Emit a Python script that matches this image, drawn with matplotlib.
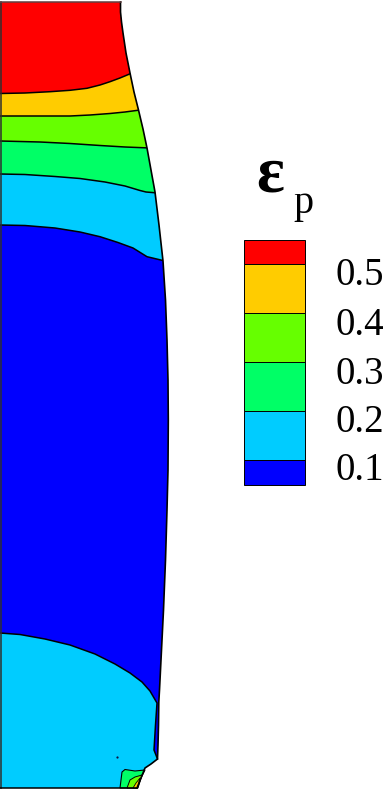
import matplotlib
matplotlib.use("Agg")
import matplotlib.pyplot as plt
from matplotlib.patches import Polygon

# everything in pixels, y going down
W, H = 386, 789

outline_x = [0, 120.5, 120.5, 121.5, 123, 126, 130, 134, 138.5, 143, 147, 151, 155, 159, 163, 165.5, 167, 168, 168.3, 168, 167, 165.5, 163.5, 161, 159.5, 158.8, 158.5, 158, 157.5, 151, 145, 141, 137, 0]
outline_y = [2, 2, 12, 22, 33, 53, 73, 92, 110, 129, 148, 170, 192, 225, 261, 300, 340, 380, 420, 470, 510, 560, 610, 660, 690, 702, 725, 745, 759, 764, 768, 778, 788, 788]

colors = ["#ff0000", "#ffcc00", "#66ff00", "#00ff66", "#00ccff", "#0000ff"]

# contour lines, top to bottom
c1_x = [0, 25, 50, 70, 87, 100, 110, 120, 132]
c1_y = [93.5, 93, 91.7, 90.3, 88.3, 85, 81.7, 78, 73]
c2_x = [0, 70, 90, 110, 125, 140]
c2_y = [116, 116, 115, 113.5, 112, 110]
c3_x = [0, 40, 70, 100, 125, 150]
c3_y = [141, 142, 143.5, 145.5, 147, 148]
c4_x = [0, 25, 55, 80, 105, 125, 140, 146, 158]
c4_y = [174, 174.5, 176.5, 178.5, 182, 186, 190.5, 192, 193]
c5_x = [0, 25, 55, 80, 100, 118, 133, 147, 165]
c5_y = [225, 225.5, 228, 232, 236.7, 242.5, 248, 256.7, 261]
c6_x = [0, 20, 45, 70, 95, 115, 130, 142, 150, 157, 155.5, 154, 157.5]
c6_y = [633, 634.5, 639, 645, 654, 664, 673, 682, 691, 703, 725, 750, 759]
contours = [(c1_x, c1_y), (c2_x, c2_y), (c3_x, c3_y), (c4_x, c4_y), (c5_x, c5_y)]

# small zones at the bottom corner, then a speck in the cyan
bottom_x = [137, 0, 0]
bottom_y = [788, 788, 633]
foot_x = [157.5, 151, 145, 141, 137]
foot_y = [759, 764, 768, 778, 788]
spring_x = [120, 122, 125, 135, 145, 141, 137, 120]
spring_y = [788, 772, 769.5, 771, 770, 778, 788, 788]
lime_x = [127, 130, 135, 142, 138, 127]
lime_y = [788, 780, 777, 775, 788, 788]
orange_x = [133, 136, 140, 137.5, 133]
orange_y = [788, 783, 778, 788, 788]
speck_x = [116.5]
speck_y = [756.5]

# legend
legend_edges = [239.5, 264, 313, 362, 411, 460, 485]
legend_labels = ["0.5", "0.4", "0.3", "0.2", "0.1"]
label_base = [285, 335, 384, 432, 480]

fig = plt.figure(figsize=(W / 100, H / 100), dpi=100)
ax = fig.add_axes([0, 0, 1, 1])
ax.set_xlim(0, W)
ax.set_ylim(H, 0)
ax.axis("off")

outline = list(zip(outline_x, outline_y))
clip = Polygon(outline, closed=True, transform=ax.transData)

ax.add_patch(Polygon(outline, closed=True, fc=colors[5], ec="none"))
# paint from the blue upwards so each band covers the one below
for i in range(4, -1, -1):
    cx, cy = contours[i]
    band = ax.fill_between(cx + [W], cy + [cy[-1]], 0, color=colors[i], lw=0)
    band.set_clip_path(clip)

cyan_poly = list(zip(c6_x + foot_x[1:] + bottom_x, c6_y + foot_y[1:] + bottom_y))
ax.add_patch(Polygon(cyan_poly, closed=True, fc=colors[4], ec="none"))
ax.plot(c6_x, c6_y, color="k", lw=1.1)
ax.add_patch(Polygon(list(zip(spring_x, spring_y)), closed=True, fc=colors[3], ec="k", lw=0.8))
ax.add_patch(Polygon(list(zip(lime_x, lime_y)), closed=True, fc=colors[2], ec="k", lw=0.7))
ax.add_patch(Polygon(list(zip(orange_x, orange_y)), closed=True, fc=colors[1], ec="k", lw=0.6))
ax.plot(speck_x, speck_y, "o", color="#101040", ms=1.6, mew=0)

for cx, cy in contours:
    line, = ax.plot(cx, cy, color="k", lw=1.1)
    line.set_clip_path(clip)

ax.plot(outline_x[1:-1], outline_y[1:-1], color="k", lw=1.2)
ax.plot([0.6, 0.6], [2, 788], color="#303030", lw=1.1)
ax.plot([0, 120.5], [2, 2], color="#604040", lw=1.1)
ax.plot([0, 137], [788, 788], color="k", lw=1.1)

# legend bar
for i in range(6):
    ax.bar(274.5, legend_edges[i + 1] - legend_edges[i], width=61, bottom=legend_edges[i],
           color=colors[i], edgecolor="k", linewidth=0.7)

for lab, y in zip(legend_labels, label_base):
    ax.text(335.5, y, lab, family="Liberation Serif", fontsize=28, color="k", ha="left", va="baseline")

ax.text(256, 191, "\u03b5", family="Liberation Serif", fontsize=47, weight="bold", color="k", ha="left", va="baseline")
ax.text(293, 213, "p", family="Liberation Serif", fontsize=29, color="k", ha="left", va="baseline")

fig.savefig("out.png", dpi=100)
